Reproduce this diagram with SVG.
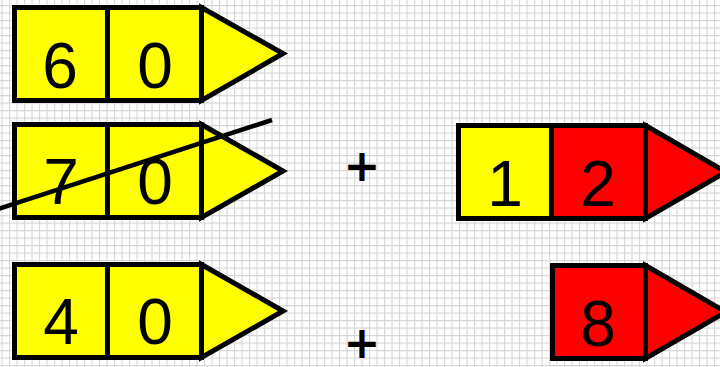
<svg xmlns="http://www.w3.org/2000/svg" width="720" height="367" viewBox="0 0 720 367">
  <defs>
    <pattern id="grid" x="1.5" y="5" width="7.5" height="7.5" patternUnits="userSpaceOnUse">
      <path d="M0 0V7.5M0 0H7.5" fill="none" stroke="#d6d6d6" stroke-width="2.2"/>
    </pattern>
  </defs>
  <style>
    .b{stroke:#000;stroke-width:5;stroke-linejoin:miter}
    .y{fill:#ffff00}
    .r{fill:#ff0000}
    .d{font-family:"Liberation Sans","DejaVu Sans",sans-serif;font-size:64px;text-anchor:middle;fill:#000}
    .p{font-family:"DejaVu Sans","Liberation Sans",sans-serif;font-size:44px;font-weight:bold;text-anchor:middle;fill:#000}
  </style>
  <rect width="720" height="367" fill="#fff"/>
  <rect width="720" height="367" fill="url(#grid)"/>

  <g id="n60">
    <rect class="b y" x="14.5" y="7.5" width="93" height="93"/>
    <rect class="b y" x="107.5" y="7.5" width="94" height="93"/>
    <polygon class="b y" points="201.5,7.5 283,53.5 201.5,100.5"/>
    <text class="d" x="60" y="88">6</text>
    <text class="d" x="155" y="88">0</text>
  </g>

  <g id="n70">
    <rect class="b y" x="14.5" y="124.5" width="93" height="93"/>
    <rect class="b y" x="107.5" y="124.5" width="94" height="93"/>
    <polygon class="b y" points="201.5,124.5 283,171 201.5,217.5"/>
    <text class="d" x="61" y="204">7</text>
    <text class="d" x="155" y="204">0</text>
  </g>

  <g id="n40">
    <rect class="b y" x="14.5" y="264.5" width="93" height="93"/>
    <rect class="b y" x="107.5" y="264.5" width="94" height="93"/>
    <polygon class="b y" points="201.5,264.5 283,311 201.5,357.5"/>
    <text class="d" x="61" y="344">4</text>
    <text class="d" x="155" y="344">0</text>
  </g>

  <g id="n12">
    <rect class="b y" x="458.5" y="125.5" width="93" height="93"/>
    <rect class="b r" x="551.5" y="125.5" width="94" height="93"/>
    <polygon class="b r" points="645.5,125.5 726,172 645.5,218.5"/>
    <text class="d" x="505" y="206">1</text>
    <text class="d" x="598" y="206">2</text>
  </g>

  <g id="n8">
    <rect class="b r" x="552.5" y="265.5" width="93" height="93"/>
    <polygon class="b r" points="645.5,265.5 726,312 645.5,358.5"/>
    <text class="d" x="598" y="346">8</text>
  </g>

  <g id="plus1"><text class="p" x="362" y="181">+</text></g>
  <g id="plus2"><text class="p" x="362" y="358">+</text></g>

  <g id="connectors">
    <line x1="-2" y1="209" x2="272" y2="120" stroke="#000" stroke-width="4.5"/>
  </g>
</svg>
